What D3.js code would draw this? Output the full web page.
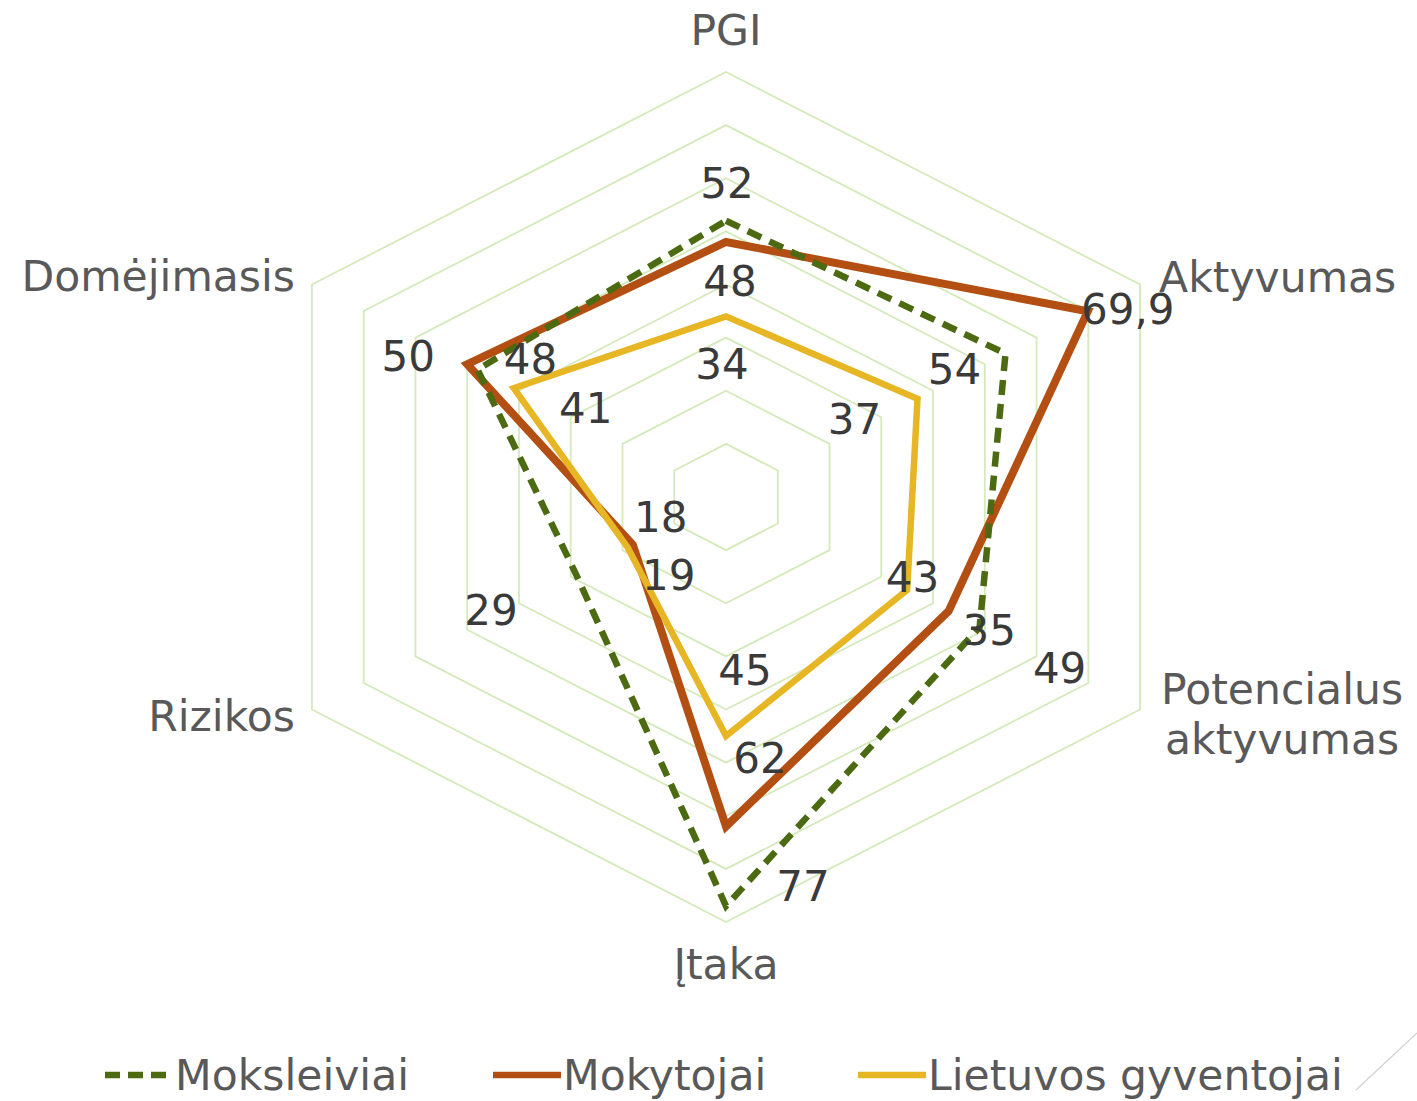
<!DOCTYPE html>
<html>
<head>
<meta charset="utf-8">
<script src="https://cdn.jsdelivr.net/npm/d3@7"></script>
<style>
  body { margin: 0; background: #fff; }
  text { font-family: "DejaVu Sans", sans-serif; }
</style>
</head>
<body>
<div id="chart"></div>
<script>
// axes and series values
var axes = ["PGI", "Aktyvumas", "Potencialus aktyvumas", "Įtaka", "Rizikos", "Domėjimasis"];
var moksleiviai = [52, 54, 49, 77, 29, 48];
var mokytojai = [48, 69.9, 43, 62, 18, 50];
var gyventojai = [34, 37, 35, 45, 19, 41];
var seriesNames = ["Moksleiviai", "Mokytojai", "Lietuvos gyventojai"];
var gridValues = [10, 20, 30, 40, 50, 60, 70, 80];

// where the data labels sit relative to their point (px)
var nudgeMoks = [[1, -37], [-51, 16], [80, 41], [77, -20], [-85, 36], [53, -10]];
var nudgeMoky = [[4, 39], [40, -2], [-36, -34], [34, -68], [28, -28], [-59, -8]];
var nudgeGyv = [[-4, 48], [-63, 21], [82, 40], [19, -66], [41, 28], [72, 20]];

var width = 1417, height = 1101;
var cx = 726, cy = 497;
var kx = 1.125; // picture is a bit wider than tall

var svg = d3.select('#chart')
	.append('svg')
		.attr('width', width)
		.attr('height', height);

var r = d3.scaleLinear().domain([0, 80]).range([0, 425]);
var angle = d3.scaleLinear().domain([0, axes.length]).range([0, 2 * Math.PI]);

function pt(i, v) {
	var a = angle(i);
	return [cx + kx * r(v) * Math.sin(a), cy - r(v) * Math.cos(a)];
}

var line = d3.line().curve(d3.curveLinearClosed);

// hexagon grid
svg.append('g').selectAll('path')
	.data(gridValues)
	.enter()
	.append('path')
		.attr('d', function(g) {
			return line(axes.map(function(a, i) { return pt(i, g); }));
		})
		.attr('fill', 'none')
		.attr('stroke', '#d4eaba')
		.attr('stroke-width', 1.8);

// axis labels
var axisG = svg.append('g').attr('fill', '#595959').attr('font-size', 42.5);
axes.forEach(function(name, i) {
	var p = pt(i, 80);
	var s = Math.sin(angle(i)), c = Math.cos(angle(i));
	var x = p[0], y = p[1], anchor = 'middle';
	if (Math.abs(s) < 0.01) {
		y = p[1] - 42 * c;
	} else if (s > 0) {
		x = p[0] + 19; anchor = 'start';
		y = p[1] + (c > 0 ? -7 : 5);
	} else {
		x = p[0] - 17; anchor = 'end';
		y = p[1] + (c > 0 ? -8 : 7);
	}
	var words = name.split(' ');
	var t = axisG.append('text')
		.attr('text-anchor', anchor)
		.attr('x', x)
		.attr('y', y);
	if (words.length > 1) {
		t.attr('text-anchor', 'middle');
		words.forEach(function(w, j) {
			t.append('tspan')
				.attr('x', x + 123)
				.attr('y', y + (j - 0.5) * 50)
				.attr('dy', '0.35em')
				.text(w);
		});
	} else {
		t.attr('dy', '0.35em').text(name);
	}
});

var series = [
	{ name: seriesNames[1], values: mokytojai, nudge: nudgeMoky, color: '#b34f12', width: 8, dash: null },
	{ name: seriesNames[2], values: gyventojai, nudge: nudgeGyv, color: '#e6b624', width: 6.5, dash: null },
	{ name: seriesNames[0], values: moksleiviai, nudge: nudgeMoks, color: '#4b6a12', width: 6.5, dash: '15 9' }
];

svg.append('g').selectAll('path')
	.data(series)
	.enter()
	.append('path')
		.attr('d', function(d) {
			return line(d.values.map(function(v, i) { return pt(i, v); }));
		})
		.attr('fill', 'none')
		.attr('stroke', function(d) { return d.color; })
		.attr('stroke-width', function(d) { return d.width; })
		.attr('stroke-linejoin', 'miter')
		.attr('stroke-dasharray', function(d) { return d.dash; });

// data labels
var fmt = function(v) { return String(v).replace('.', ','); };
var labelG = svg.append('g').attr('fill', '#3a3a3a').attr('font-size', 42).attr('text-anchor', 'middle');
series.forEach(function(s) {
	labelG.selectAll(null)
		.data(s.values)
		.enter()
		.append('text')
			.attr('x', function(v, i) { return pt(i, v)[0] + s.nudge[i][0]; })
			.attr('y', function(v, i) { return pt(i, v)[1] + s.nudge[i][1]; })
			.attr('dy', '0.35em')
			.text(fmt);
});

// legend
var legendData = [
	{ name: seriesNames[0], color: '#4b6a12', dash: '15 8', x: 105 },
	{ name: seriesNames[1], color: '#b34f12', dash: null, x: 493 },
	{ name: seriesNames[2], color: '#e6b624', dash: null, x: 858 }
];
var leg = svg.append('g').selectAll('g')
	.data(legendData)
	.enter()
	.append('g')
		.attr('transform', function(d) { return 'translate(' + d.x + ',1075)'; });
leg.append('line')
	.attr('x1', 0).attr('x2', 68)
	.attr('stroke', function(d) { return d.color; })
	.attr('stroke-width', 6.5)
	.attr('stroke-dasharray', function(d) { return d.dash; });
leg.append('text')
	.attr('x', 70)
	.attr('dy', '0.35em')
	.attr('fill', '#595959')
	.attr('font-size', 42.5)
	.text(function(d) { return d.name; });

// faint slide edge at bottom right
svg.append('line')
	.attr('x1', 1356).attr('y1', 1090)
	.attr('x2', 1417).attr('y2', 1033)
	.attr('stroke', '#cfcfcf')
	.attr('stroke-width', 1.2);
</script>
</body>
</html>
